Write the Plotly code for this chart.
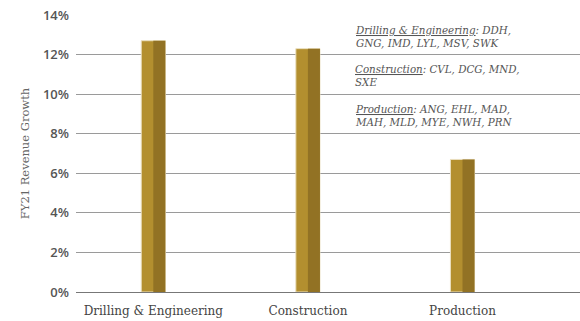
import plotly.graph_objects as go

categories = ["Drilling & Engineering", "Construction", "Production"]
growth = [12.7, 12.3, 6.7]
y_ticks = [0, 2, 4, 6, 8, 10, 12, 14]
y_tick_labels = [f"{v}%" for v in y_ticks]
notes = [
    "<i><u>Drilling & Engineering</u>: DDH,<br>GNG, IMD, LYL, MSV, SWK</i>",
    "<i><u>Construction</u>: CVL, DCG, MND,<br>SXE</i>",
    "<i><u>Production</u>: ANG, EHL, MAD,<br>MAH, MLD, MYE, NWH, PRN</i>",
]
note_y = [12.93, 10.95, 8.9]

xs = list(range(len(categories)))
half = 0.078

fig = go.Figure()
fig.add_trace(go.Bar(
    x=xs, y=growth, width=2 * half, offset=-half,
    marker=dict(color="#b38f2f", line=dict(color="#eadfbf", width=1)),
    hoverinfo="skip", showlegend=False,
))
fig.add_trace(go.Bar(
    x=xs, y=growth, width=half, offset=0,
    marker=dict(color="#927224", line=dict(width=0)),
    hoverinfo="skip", showlegend=False,
))

for txt, yv in zip(notes, note_y):
    fig.add_annotation(
        x=0.549, xref="paper", y=yv, yref="y",
        text=txt, showarrow=False, xanchor="left", yanchor="middle", align="left",
        font=dict(family="DejaVu Serif", size=10.3, color="#555555"),
    )

fig.update_layout(
    width=580, height=321,
    margin=dict(l=76, r=0, t=15, b=29),
    barmode="overlay",
    plot_bgcolor="white", paper_bgcolor="white",
    xaxis=dict(
        range=[-0.5, 2.76], tickmode="array", tickvals=xs, ticktext=categories,
        showgrid=False, zeroline=False, showline=False, ticks="",
        ticklabelstandoff=10,
        tickfont=dict(family="DejaVu Serif", size=12, color="#444444"),
    ),
    yaxis=dict(
        range=[0, 14], tickmode="array", tickvals=y_ticks, ticktext=y_tick_labels,
        showgrid=True, gridcolor="#9a9a9a", gridwidth=1,
        zeroline=True, zerolinecolor="#777777", zerolinewidth=1,
        showline=False, ticks="", ticklabelstandoff=6,
        tickfont=dict(family="Open Sans", size=13, color="#555555", weight=600),
        title=dict(text="FY21 Revenue Growth", standoff=10,
                   font=dict(family="DejaVu Serif", size=11.5, color="#666666")),
    ),
)

fig.write_html("out.html")
